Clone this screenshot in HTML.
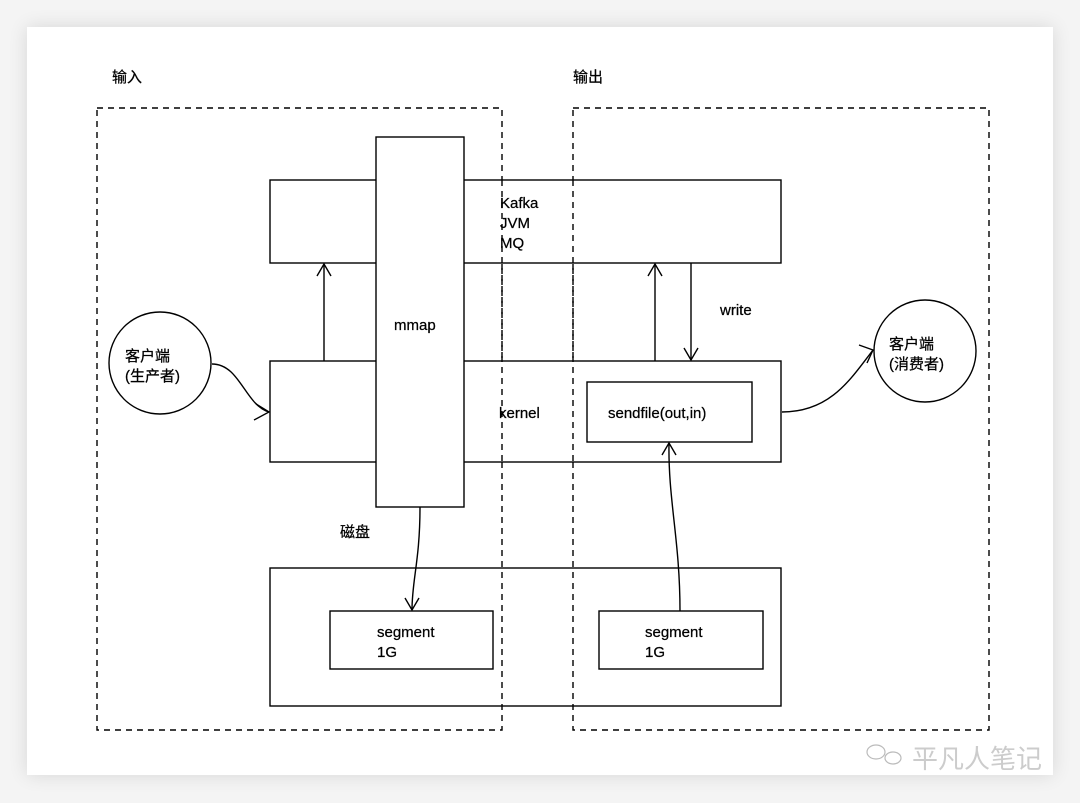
<!DOCTYPE html>
<html><head><meta charset="utf-8"><style>
html,body{margin:0;padding:0;background:#f4f4f4;width:1080px;height:803px;overflow:hidden}
.card{position:absolute;left:27px;top:27px;width:1026px;height:748px;background:#fff;box-shadow:0 0 18px rgba(0,0,0,0.12)}
svg{position:absolute;left:0;top:0}
text{font-family:"Liberation Sans","Noto Sans CJK SC",sans-serif;font-size:15px;fill:#000;stroke:#000;stroke-width:0.25}
</style></head><body>
<div class="card"></div>
<svg width="1080" height="803" viewBox="0 0 1080 803">
<g fill="none" stroke="#000" stroke-width="1.4">
<rect x="97" y="108" width="405" height="622" stroke-dasharray="6,5"/>
<rect x="573" y="108" width="416" height="622" stroke-dasharray="6,5"/>
<rect x="270" y="180" width="511" height="83" fill="#fff"/>
<rect x="270" y="361" width="511" height="101" fill="#fff"/>
<line x1="502" y1="180" x2="502" y2="462" stroke-dasharray="6,5"/>
<line x1="573" y1="180" x2="573" y2="462" stroke-dasharray="6,5"/>
<rect x="376" y="137" width="88" height="370" fill="#fff"/>
<rect x="270" y="568" width="511" height="138"/>
<rect x="330" y="611" width="163" height="58"/>
<rect x="599" y="611" width="164" height="58"/>
<rect x="587" y="382" width="165" height="60"/>
<circle cx="160" cy="363" r="51"/>
<circle cx="925" cy="351" r="51"/>
<line x1="324" y1="361" x2="324" y2="264"/><polyline points="317,276 324,264 331,276"/>
<line x1="655" y1="361" x2="655" y2="264"/><polyline points="648,276 655,264 662,276"/>
<line x1="691" y1="263" x2="691" y2="360"/><polyline points="684,348 691,360 698,348"/>
<path d="M680,611 C680,540 668,500 669,443"/><polyline points="662,455 669,443 676,455"/>
<path d="M420,507 C420,560 412,580 412,610"/><polyline points="405,598 412,610 419,598"/>
<path d="M212,364 C240,364 245,405 269,412"/><polyline points="254,420 269,412 256,404"/>
<path d="M782,412 C830,412 850,380 873,350"/><polyline points="859,345 873,350 867,363"/>
</g>
<text x="112" y="82">输入</text>
<text x="573" y="82">输出</text>
<text x="500" y="208">Kafka</text>
<text x="500" y="228">JVM</text>
<text x="500" y="248">MQ</text>
<text x="394" y="330">mmap</text>
<text x="499" y="418">kernel</text>
<text x="720" y="315">write</text>
<text x="608" y="418">sendfile(out,in)</text>
<text x="340" y="537">磁盘</text>
<text x="377" y="637">segment</text>
<text x="377" y="657">1G</text>
<text x="645" y="637">segment</text>
<text x="645" y="657">1G</text>
<text x="125" y="361">客户端</text>
<text x="125" y="381">(生产者)</text>
<text x="889" y="349">客户端</text>
<text x="889" y="369">(消费者)</text>
<g fill="none" stroke="#bbb" stroke-width="1.2"><ellipse cx="876" cy="752" rx="9" ry="7"/><ellipse cx="893" cy="758" rx="8" ry="6"/></g>
<text x="912" y="768" style="font-size:26px;fill:#ccc;stroke:none">平凡人笔记</text>
</svg>
</body></html>
